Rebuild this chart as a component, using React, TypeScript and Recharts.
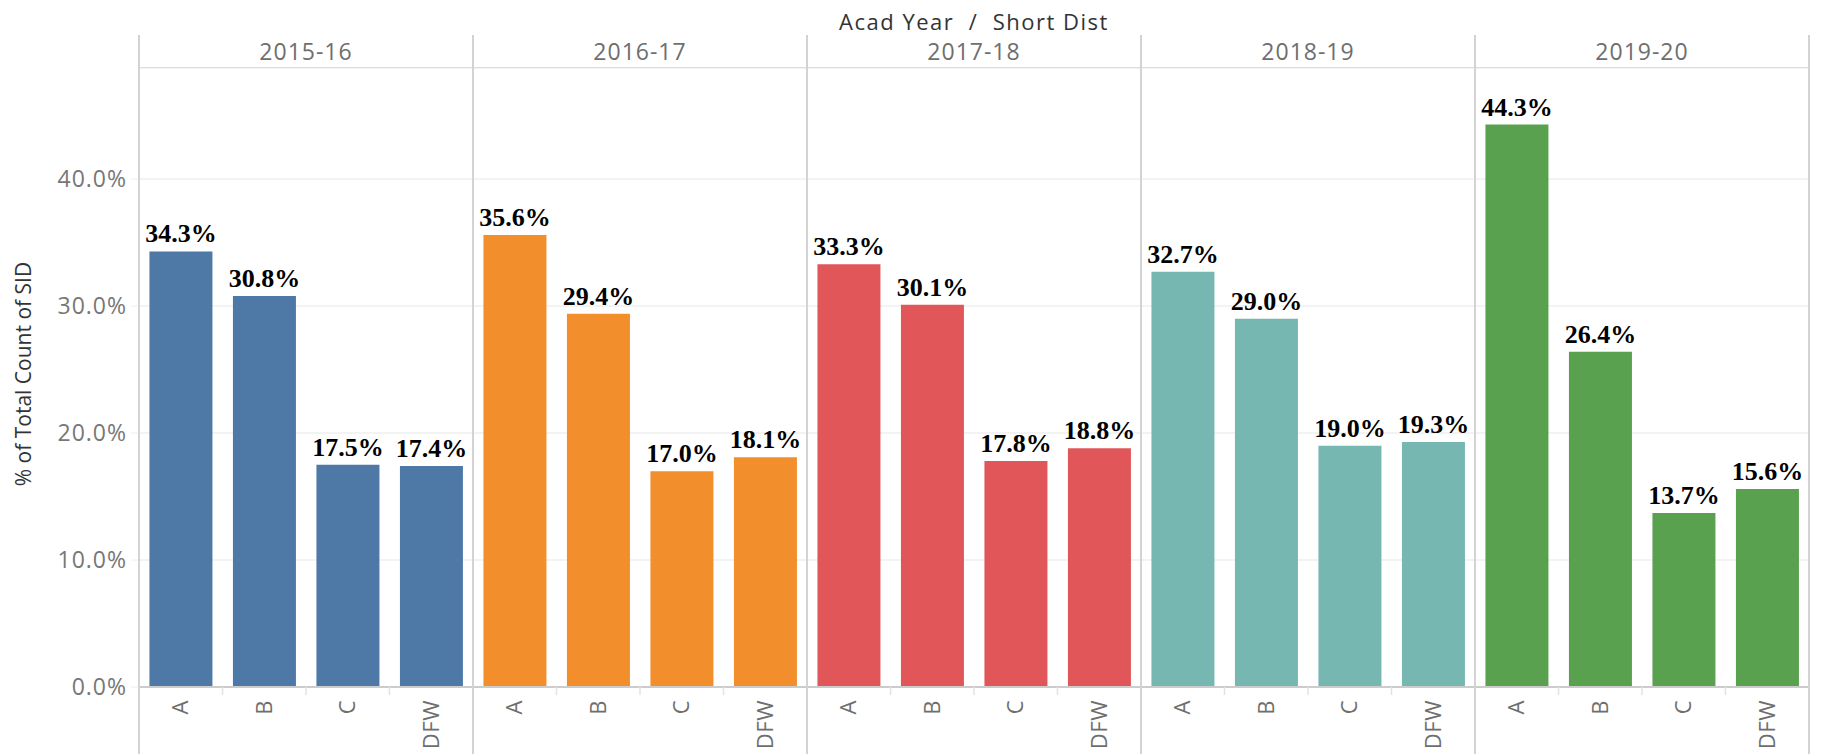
import { BarChart, Bar, XAxis, YAxis, CartesianGrid, LabelList } from 'recharts';

const years = ['2015-16', '2016-17', '2017-18', '2018-19', '2019-20'];
const grades = ['A', 'B', 'C', 'DFW'];
const pct1516 = [34.3, 30.8, 17.5, 17.4];
const pct1617 = [35.6, 29.4, 17.0, 18.1];
const pct1718 = [33.3, 30.1, 17.8, 18.8];
const pct1819 = [32.7, 29.0, 19.0, 19.3];
const pct1920 = [44.3, 26.4, 13.7, 15.6];
const yTicks = [0, 10, 20, 30, 40];
const colors = ['#4e79a7', '#f28e2b', '#e15759', '#76b7b2', '#59a14f'];

const series = [pct1516, pct1617, pct1718, pct1819, pct1920];

const LEFT = 139;
const PANEL_W = 334;
const HEADER_TOP = 35;
const PLOT_TOP = 68;
const CHART_H = 754 - PLOT_TOP;
const BAND = PANEL_W / 4;
const DOMAIN: [number, number] = [0, 48.75];

const XTick = (props: any) => {
  const { x, y, payload, index } = props;
  return (
    <g>
      {index > 0 && (
        <line x1={x - BAND / 2} x2={x - BAND / 2} y1={y} y2={y + 8} stroke="#e3e3e3" strokeWidth={1.5} />
      )}
      <text
        x={0}
        y={0}
        transform={`translate(${x},${y + 13}) rotate(-90)`}
        textAnchor="end"
        dy="0.35em"
        fill="#6e6e6e"
        fontSize={22}
        fontFamily="Open Sans"
        letterSpacing={0.5}
      >
        {payload.value}
      </text>
    </g>
  );
};

const BarLabel = (props: any) => {
  const { x, y, width, value } = props;
  return (
    <text
      x={x + width / 2}
      y={y - 9}
      textAnchor="middle"
      fontFamily="Liberation Serif"
      fontWeight="bold"
      fontSize={26}
      fill="#000"
    >
      {Number(value).toFixed(1)}%
    </text>
  );
};

function Panel({ idx }: { idx: number }) {
  const data = grades.map((g, i) => ({ grade: g, value: series[idx][i] }));
  const first = idx === 0;
  return (
    <BarChart
      width={first ? LEFT + PANEL_W : PANEL_W}
      height={CHART_H}
      data={data}
      margin={{ top: 0, right: 0, bottom: 0, left: 0 }}
      barCategoryGap="12.5%"
    >
      <CartesianGrid vertical={false} stroke="#efefef" strokeWidth={1.5} />
      <YAxis
        hide={!first}
        width={first ? LEFT : 0}
        domain={DOMAIN}
        ticks={yTicks}
        interval={0}
        allowDataOverflow
        tickFormatter={(v: number) => `${v.toFixed(1)}%`}
        tick={{ fill: '#777', fontSize: 23, fontFamily: 'Open Sans', letterSpacing: 1 }}
        tickSize={8}
        tickMargin={4}
        tickLine={{ stroke: '#eeeeee' }}
        axisLine={false}
      />
      <XAxis
        dataKey="grade"
        height={CHART_H - 619}
        interval={0}
        tickSize={0}
        tickMargin={0}
        tickLine={false}
        axisLine={{ stroke: '#cccccc', strokeWidth: 2 }}
        tick={<XTick />}
      />
      <Bar dataKey="value" fill={colors[idx]} isAnimationActive={false}>
        <LabelList dataKey="value" content={<BarLabel />} />
      </Bar>
    </BarChart>
  );
}

export default function App() {
  return (
    <div
      style={{
        position: 'absolute',
        left: 0,
        top: 0,
        width: 1828,
        height: 754,
        background: '#fff',
        fontFamily: 'Open Sans',
        overflow: 'hidden',
      }}
    >
      <div
        style={{
          position: 'absolute',
          left: LEFT,
          top: 0,
          width: PANEL_W * 5,
          height: 42,
          lineHeight: '42px',
          textAlign: 'center',
          fontSize: 22,
          letterSpacing: 1.5,
          color: '#333',
          whiteSpace: 'pre',
        }}
      >
        {'Acad Year  /  Short Dist'}
      </div>

      {years.map((yr, i) => (
        <div
          key={yr}
          style={{
            position: 'absolute',
            left: LEFT + i * PANEL_W,
            top: HEADER_TOP,
            width: PANEL_W,
            height: PLOT_TOP - HEADER_TOP,
            lineHeight: `${PLOT_TOP - HEADER_TOP}px`,
            textAlign: 'center',
            fontSize: 23,
            color: '#6e6e6e',
            letterSpacing: 1,
          }}
        >
          {yr}
        </div>
      ))}

      <div
        style={{
          position: 'absolute',
          left: 0,
          top: PLOT_TOP,
          display: 'flex',
        }}
      >
        {years.map((yr, i) => (
          <Panel key={yr} idx={i} />
        ))}
      </div>

      <div
        style={{
          position: 'absolute',
          left: LEFT,
          top: PLOT_TOP - 1,
          width: PANEL_W * 5,
          height: 0,
          borderTop: '1.5px solid #dddddd',
        }}
      />
      {[0, 1, 2, 3, 4, 5].map((k) => (
        <div
          key={k}
          style={{
            position: 'absolute',
            left: LEFT + k * PANEL_W - 1,
            top: HEADER_TOP,
            width: 0,
            height: 754 - HEADER_TOP,
            borderLeft: '2px solid #d3d3d3',
          }}
        />
      ))}

      <div
        style={{
          position: 'absolute',
          left: 23,
          top: 374,
          transform: 'translate(-50%, -50%) rotate(-90deg)',
          whiteSpace: 'nowrap',
          fontSize: 21,
          color: '#333',
        }}
      >
        % of Total Count of SID
      </div>
    </div>
  );
}
